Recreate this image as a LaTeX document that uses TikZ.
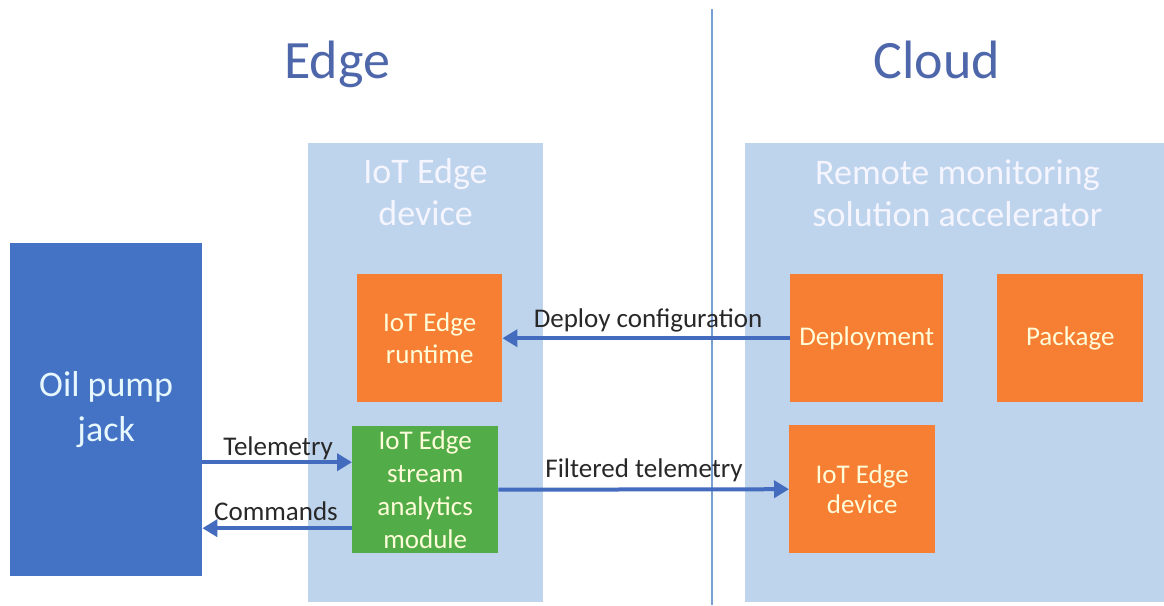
\documentclass[tikz,border=0pt]{standalone}
\usepackage{fontspec}
\setmainfont{Carlito}
\usetikzlibrary{arrows.meta}
\definecolor{panel}{RGB}{190,211,236}
\definecolor{pumpblue}{RGB}{68,114,196}
\definecolor{orng}{RGB}{246,127,52}
\definecolor{grn}{RGB}{82,172,72}
\definecolor{titleblue}{RGB}{78,102,170}
\definecolor{arrowblue}{RGB}{68,108,190}
\definecolor{divider}{RGB}{120,160,210}
\definecolor{labeltext}{RGB}{40,40,40}
\begin{document}
\begin{tikzpicture}[x=1pt,y=-1pt,
  panelbox/.style={fill=panel, draw=none, inner sep=0pt, anchor=north west},
  blockbox/.style={draw=none, inner sep=0pt, anchor=north west, align=center,
    text=white!85!yellow, font=\fontsize{27}{32}\selectfont},
  bigtitle/.style={align=center, text=white!96!blue, font=\fontsize{36}{42}\selectfont, inner sep=0pt},
  sidetitle/.style={text=titleblue, font=\fontsize{54}{60}\selectfont, inner sep=0pt, anchor=base},
  flowlabel/.style={text=labeltext, font=\fontsize{27}{32}\selectfont, inner sep=0pt, anchor=base},
  arr/.style={draw=arrowblue, line width=4pt, -{Triangle[length=15pt,width=17pt]}},
  divline/.style={draw=divider, line width=1.5pt}]
\useasboundingbox (0,0) rectangle (1164,605);
\fill[white] (0,0) rectangle (1164,605);

% titles
\node[sidetitle] (edgetitle) at (337,78) {Edge};
\node[sidetitle] (cloudtitle) at (937,78) {Cloud};

% divider
\coordinate (divtop) at (712,9);
\coordinate (divbot) at (712,605);
\draw[divline] (divtop) -- (divbot);

% panels
\node[panelbox, minimum width=235, minimum height=459] (edgedev) at (308,143) {};
\node[panelbox, minimum width=419, minimum height=459] (rmsa) at (745,143) {};
\node[bigtitle] (edgedevtitle) at (425.5,192) {IoT Edge\\device};
\node[bigtitle] (rmsatitle) at (957.5,193) {Remote monitoring\\solution accelerator};

% blocks
\node[blockbox, fill=pumpblue, minimum width=192, minimum height=333,
  text=white!90!cyan, font=\fontsize{36}{45}\selectfont] (pump) at (10,243) {Oil pump\\jack};
\node[blockbox, fill=orng, minimum width=145, minimum height=128] (runtime) at (357,274) {IoT Edge\\runtime};
\node[blockbox, fill=grn, minimum width=146, minimum height=127,
  font=\fontsize{27}{33}\selectfont] (module) at (352,426) {IoT Edge\\stream\\analytics\\module};
\node[blockbox, fill=orng, minimum width=153, minimum height=128] (deploy) at (790,274) {Deployment};
\node[blockbox, fill=orng, minimum width=146, minimum height=128] (package) at (997,274) {Package};
\node[blockbox, fill=orng, minimum width=146, minimum height=128,
  font=\fontsize{27}{30}\selectfont] (cdevice) at (789,425) {IoT Edge\\device};

% connectors
\coordinate (telrow) at ([yshift=27.5pt]module.west);
\coordinate (cmdrow) at ([yshift=-38.5pt]module.west);
\draw[arr] (deploy.west) -- (runtime.east);
\draw[arr] (telrow -| pump.east) -- (telrow);
\draw[arr] (cmdrow) -- (cmdrow -| pump.east);
\draw[arr] (module.east) -- (cdevice.west);

% labels
\node[flowlabel] (deploylbl) at (648,327) {Deploy configuration};
\node[flowlabel] (tellbl) at (278,455) {Telemetry};
\node[flowlabel] (cmdlbl) at (276,520) {Commands};
\node[flowlabel] (filtlbl) at (644,477) {Filtered telemetry};
\end{tikzpicture}
\end{document}
